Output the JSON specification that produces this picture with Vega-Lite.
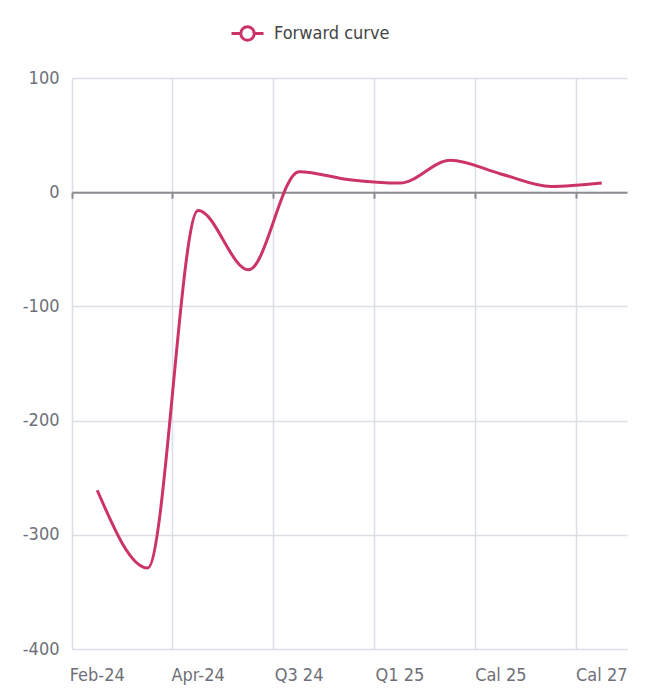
{
  "$schema": "https://vega.github.io/schema/vega-lite/v6.json",
  "width": 555,
  "height": 571,
  "autosize": {"type": "none"},
  "padding": {"left": 72, "top": 78, "right": 23, "bottom": 40},
  "background": "white",
  "config": {"view": {"stroke": null}},
  "data": {
    "values": [
      {"cat": "Feb-24", "value": -261, "series": "Forward curve"},
      {"cat": "Mar-24", "value": -329, "series": "Forward curve"},
      {"cat": "Apr-24", "value": -16, "series": "Forward curve"},
      {"cat": "May-24", "value": -68, "series": "Forward curve"},
      {"cat": "Q3 24", "value": 18, "series": "Forward curve"},
      {"cat": "Q4 24", "value": 11, "series": "Forward curve"},
      {"cat": "Q1 25", "value": 8, "series": "Forward curve"},
      {"cat": "Q2 25", "value": 28, "series": "Forward curve"},
      {"cat": "Cal 25", "value": 16, "series": "Forward curve"},
      {"cat": "Cal 26", "value": 5, "series": "Forward curve"},
      {"cat": "Cal 27", "value": 8, "series": "Forward curve"}
    ]
  },
  "layer": [
    {
      "mark": {"type": "point", "opacity": 0},
      "encoding": {
        "x": {
          "field": "cat", "type": "ordinal", "sort": null,
          "scale": {"type": "band", "paddingInner": 0, "paddingOuter": 0},
          "axis": {
            "orient": "bottom",
            "offset": {"expr": "scale('y', 0) - height"},
            "values": ["Feb-24", "Apr-24", "Q3 24", "Q1 25", "Cal 25", "Cal 27"],
            "bandPosition": 0,
            "labels": false,
            "grid": false,
            "title": null,
            "domainColor": "#8c8c92",
            "domainWidth": 2,
            "ticks": true,
            "tickColor": "#8c8c92",
            "tickWidth": 2,
            "tickSize": 6
          }
        },
        "y": {"field": "value", "type": "quantitative"}
      }
    },
    {
      "mark": {"type": "line", "interpolate": "monotone", "strokeWidth": 3},
      "encoding": {
        "x": {
          "field": "cat", "type": "ordinal", "sort": null,
          "scale": {"type": "band", "paddingInner": 0, "paddingOuter": 0},
          "axis": {
            "orient": "bottom",
            "values": ["Feb-24", "Apr-24", "Q3 24", "Q1 25", "Cal 25", "Cal 27"],
            "bandPosition": 0,
            "labelAngle": 0,
            "labelPadding": 17,
            "labelFont": "'DejaVu Sans Condensed', 'Liberation Sans Narrow', 'Open Sans', sans-serif",
            "labelFontSize": 18,
            "labelColor": "#6e7079",
            "grid": true,
            "gridColor": "#dcdee6",
            "gridWidth": 1.5,
            "domainColor": "#dcdee6",
            "ticks": false,
            "title": null
          }
        },
        "y": {
          "field": "value", "type": "quantitative",
          "scale": {"domain": [-400, 100], "nice": false, "zero": false},
          "axis": {
            "values": [-400, -300, -200, -100, 0, 100],
            "labelExpr": "replace(datum.label, '−', '-')",
            "grid": true,
            "gridColor": "#dcdee6",
            "gridWidth": 1.5,
            "domain": false,
            "ticks": false,
            "labelPadding": 13,
            "labelFont": "'DejaVu Sans Condensed', 'Liberation Sans Narrow', 'Open Sans', sans-serif",
            "labelFontSize": 18,
            "labelColor": "#6e7079",
            "title": null
          }
        },
        "color": {
          "field": "series", "type": "nominal",
          "scale": {"range": ["#cc3366"]},
          "legend": {
            "orient": "none",
            "legendX": 158,
            "legendY": -62,
            "title": null,
            "symbolType": "M-1,0H-0.42M0.42,0H1M-0.42,0A0.42,0.42 0 1,1 0.42,0A0.42,0.42 0 1,1 -0.42,0Z",
            "symbolSize": 1024,
            "symbolStrokeWidth": 3,
            "symbolFillColor": "white",
            "labelFont": "'DejaVu Sans Condensed', 'Liberation Sans Narrow', 'Open Sans', sans-serif",
            "labelFontSize": 18,
            "labelColor": "#444444",
            "labelOffset": 9
          }
        }
      }
    }
  ],
  "resolve": {"axis": {"x": "independent"}}
}
